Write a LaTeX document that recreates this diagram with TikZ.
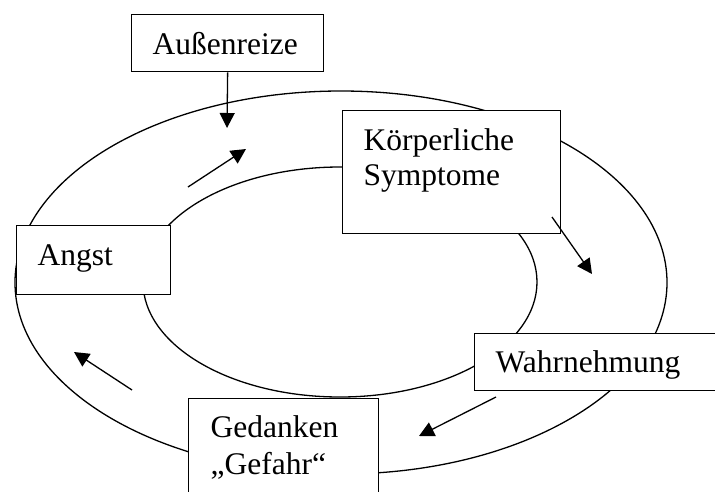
\documentclass[tikz,border=0pt]{standalone}
\usepackage{fontspec}
\setmainfont{Liberation Serif}
\usetikzlibrary{arrows.meta}
\begin{document}
\begin{tikzpicture}[x=1pt,y=-1pt,
  line width=1.3pt,
  box/.style={draw, fill=white, line width=1.3pt, inner sep=0pt, anchor=north west},
  lbl/.style={anchor=base west, inner sep=0pt, font=\fontsize{31.5}{35}\selectfont},
  arr/.style={-{Triangle[width=15pt,length=15pt]}, line width=1.3pt}]
\useasboundingbox (0,0) rectangle (715,491);
\clip (0,0) rectangle (715,491);
% rings
\draw (341,282.5) ellipse [x radius=326pt, y radius=191.5pt];
\draw (340,282) ellipse [x radius=197pt, y radius=115pt];
% boxes
\node[box, minimum width=192pt, minimum height=57pt] (aussen) at (131,14) {};
\node[box, minimum width=218pt, minimum height=123pt] (koerper) at (342,110) {};
\node[box, minimum width=154pt, minimum height=69pt] (angst) at (16,225) {};
\node[box, minimum width=270pt, minimum height=57pt] (wahr) at (474,333) {};
\node[box, minimum width=190pt, minimum height=110pt] (gedanken) at (188,398) {};
% labels
\node[lbl] (taussen) at (152,54) {Außenreize};
\node[lbl] (tkoerper1) at (363,150) {Körperliche};
\node[lbl] (tkoerper2) at (363,185) {Symptome};
\node[lbl] (tangst) at (37,265) {Angst};
\node[lbl] (twahr) at (495,372) {Wahrnehmung};
\node[lbl] (tged1) at (210,437) {Gedanken};
\node[lbl] (tged2) at (210,474) {„Gefahr“};
% arrows
\coordinate (t1) at (227,128);
\draw[arr] (aussen.south) -- (t1);
\coordinate (s2) at (188,187); \coordinate (t2) at (246,149);
\draw[arr] (s2) -- (t2);
\coordinate (s3) at (552,217); \coordinate (t3) at (592,274);
\draw[arr] (s3) -- (t3);
\coordinate (s4) at (496,397); \coordinate (t4) at (419,436);
\draw[arr] (s4) -- (t4);
\coordinate (s5) at (132,390); \coordinate (t5) at (74,352);
\draw[arr] (s5) -- (t5);
\end{tikzpicture}
\end{document}
